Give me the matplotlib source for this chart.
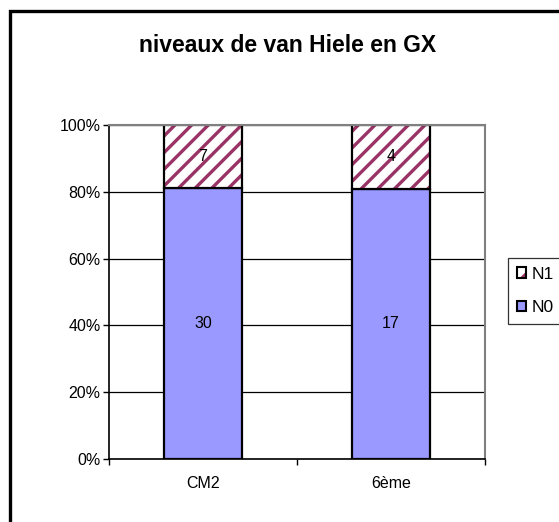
import matplotlib
matplotlib.use("Agg")
import matplotlib.pyplot as plt
from matplotlib.patches import Rectangle, Patch
from matplotlib.legend_handler import HandlerTuple
from matplotlib.ticker import FuncFormatter, FixedLocator
import numpy as np

plt.rcParams['font.family'] = ['Liberation Sans', 'DejaVu Sans']
plt.rcParams['hatch.linewidth'] = 2.4

categories = ["CM2", "6ème"]
n0 = [30, 17]
n1 = [7, 4]
yticks = [0, 20, 40, 60, 80, 100]

totals = np.array(n0, dtype=float) + np.array(n1, dtype=float)
p0 = np.array(n0) / totals * 100
p1 = np.array(n1) / totals * 100

W, H = 559, 522
fig = plt.figure(figsize=(W / 100, H / 100), dpi=100)

# chart area frame
fig.patches.append(Rectangle((10 / W, -0.05), 1.2, (H - 11) / H + 0.05,
                             transform=fig.transFigure, fill=False,
                             edgecolor='black', linewidth=2.4, zorder=0))

ax = fig.add_axes([109 / W, (H - 459) / H, (485 - 109) / W, (459 - 125) / H])
x = np.arange(len(categories))
bw = 0.415

ax.yaxis.grid(True, color='black', linewidth=0.9, zorder=0)
ax.set_axisbelow(True)

ax.bar(x, p0, bw, color='#9999FF', edgecolor='black', linewidth=1.6,
       label='N0', zorder=2)
# striped top segment: maroon hatch, then a black outline over it
ax.bar(x, p1, bw, bottom=p0, color='white', edgecolor='#993366',
       linewidth=0, hatch='//', label='N1', zorder=2)
ax.bar(x, p1, bw, bottom=p0, fill=False, edgecolor='black', linewidth=1.6,
       zorder=2.5)

for i in range(len(categories)):
    ax.text(x[i], p0[i] / 2, str(n0[i]), ha='center', va='center',
            fontsize=11.5, zorder=3)
    ax.text(x[i], p0[i] + p1[i] / 2, str(n1[i]), ha='center', va='center',
            fontsize=11.5, zorder=3)

ax.set_xlim(-0.5, len(categories) - 0.5)
ax.set_ylim(0, 100)
ax.set_yticks(yticks)
ax.yaxis.set_major_formatter(FuncFormatter(lambda v, _: f"{int(v)}%"))
ax.set_xticks(x)
ax.set_xticklabels(categories)
ax.xaxis.set_minor_locator(FixedLocator(np.arange(-0.5, len(categories), 1.0)))
ax.tick_params(axis='x', which='major', length=0, pad=12, labelsize=11.5)
ax.tick_params(axis='x', which='minor', length=4, width=1, color='black')
ax.tick_params(axis='y', length=4, width=1, pad=2, labelsize=11.5)

for side in ('left', 'bottom'):
    ax.spines[side].set_color('black')
    ax.spines[side].set_linewidth(1.2)
for side in ('top', 'right'):
    ax.spines[side].set_color('#808080')
    ax.spines[side].set_linewidth(1.5)

fig.text(288 / W, 1 - 45 / H, "niveaux de van Hiele en GX", ha='center',
         va='center', fontsize=16.5, fontweight='bold')

# legend swatches: fill/hatch layer plus a black outline layer
h1 = (Patch(facecolor='white', edgecolor='#993366', hatch='//', linewidth=0),
      Patch(fill=False, edgecolor='black', linewidth=1.5))
h0 = Patch(facecolor='#9999FF', edgecolor='black', linewidth=1.5)
leg = fig.legend(handles=[h1, h0], labels=['N1', 'N0'],
                 handler_map={tuple: HandlerTuple(ndivide=1)},
                 loc='upper left', bbox_to_anchor=(508 / W, 1 - 258 / H),
                 frameon=True, fancybox=False, fontsize=12.5,
                 handlelength=0.55, handleheight=0.55, handletextpad=0.3,
                 borderpad=0.5, labelspacing=1.05, borderaxespad=0)
leg.get_frame().set_edgecolor('black')
leg.get_frame().set_linewidth(0.9)

fig.savefig("out.png", dpi=100)
